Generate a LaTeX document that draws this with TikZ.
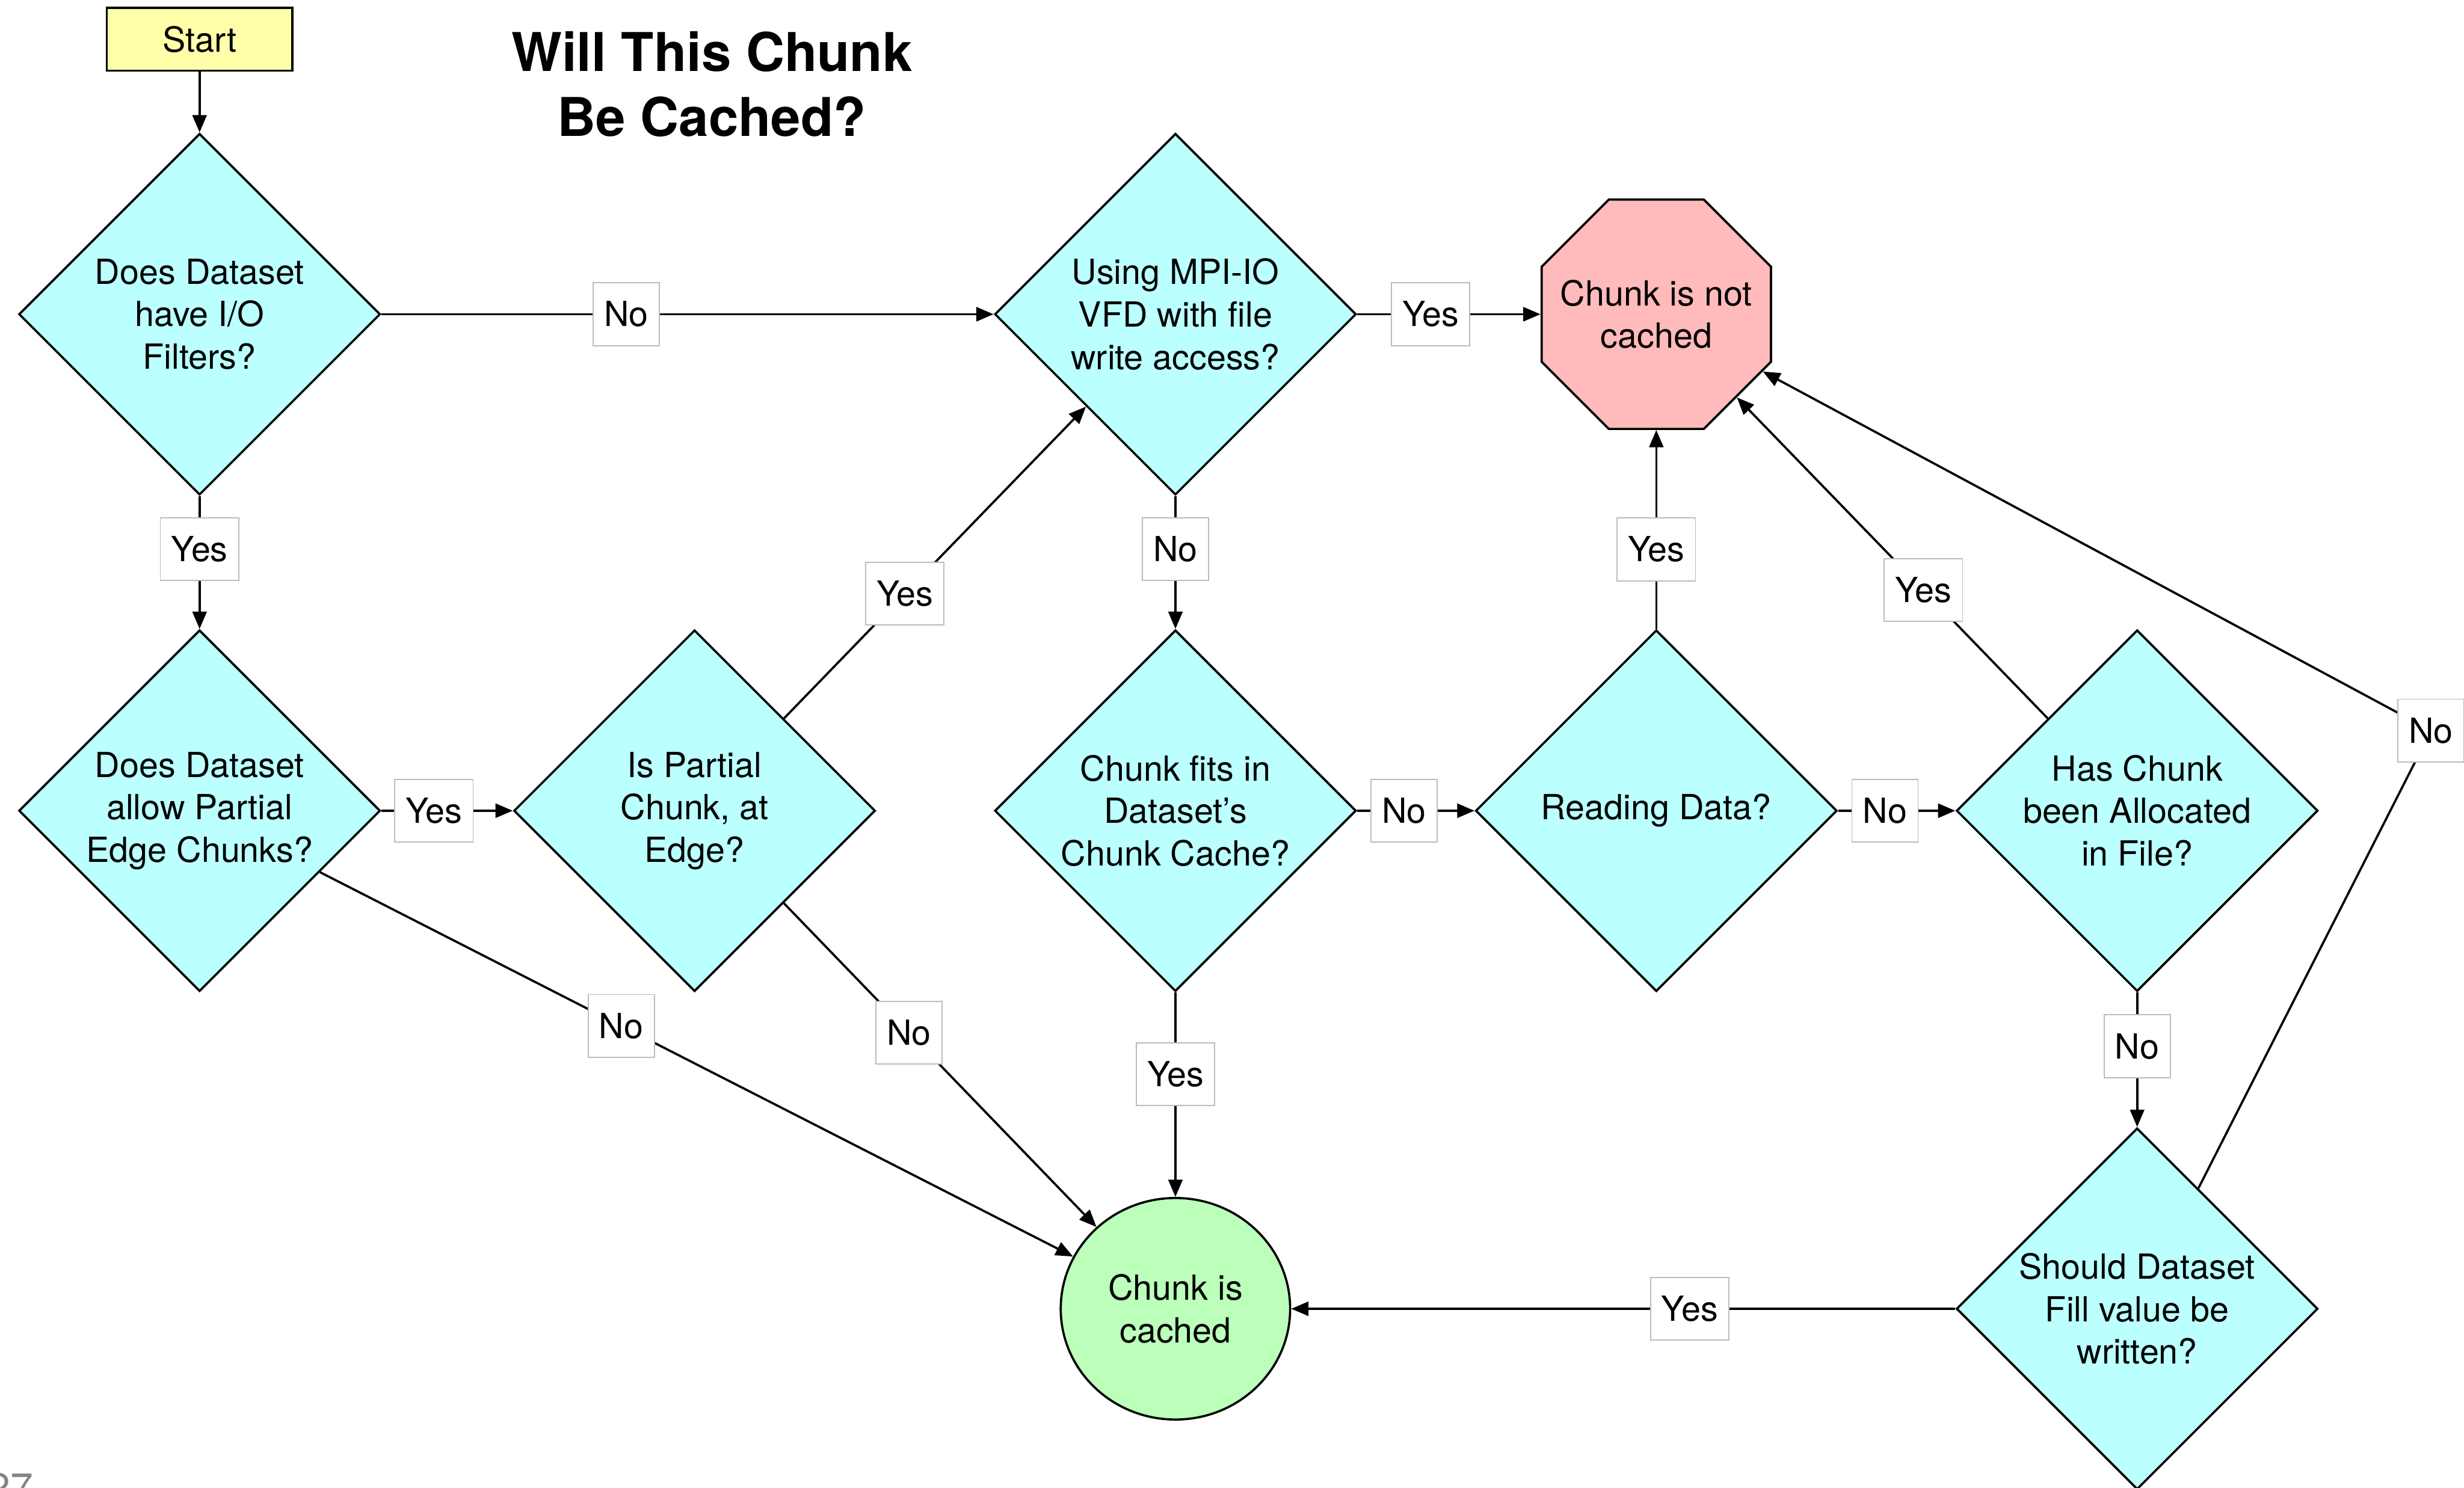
\documentclass[tikz,border=0pt]{standalone}
\usepackage{fontspec}
\setmainfont{TeX Gyre Heros}
\usetikzlibrary{shapes.geometric,arrows.meta}
\definecolor{qfill}{HTML}{BBFFFF}
\definecolor{stopfill}{HTML}{FFBBBB}
\definecolor{okfill}{HTML}{BBFFBB}
\definecolor{startfill}{HTML}{FFFFAA}
\definecolor{lblline}{HTML}{BBBBBB}
\definecolor{pagegray}{HTML}{858585}
\begin{document}
\begin{tikzpicture}[x=1pt,y=-1pt,
  every node/.style={font=\fontsize{22}{27}\selectfont},
  startbox/.style={rectangle, draw, line width=1.3pt, fill=startfill,
    minimum width=118pt, minimum height=40pt, inner sep=0pt},
  heading/.style={font=\fontsize{34}{41}\selectfont\bfseries, align=center,
    inner sep=0pt, anchor=north},
  question/.style={diamond, aspect=1, draw, line width=1.4pt, fill=qfill,
    minimum width=230pt, minimum height=230pt, inner sep=0pt, align=center},
  notcached/.style={regular polygon, regular polygon sides=8, draw,
    line width=1.4pt, fill=stopfill, minimum size=158pt, inner sep=0pt},
  plaintext/.style={inner sep=0pt, align=center},
  cached/.style={ellipse, draw, line width=1.4pt, fill=okfill,
    minimum width=146pt, minimum height=141pt, inner sep=0pt, align=center},
  lbl/.style={rectangle, draw=lblline, line width=0.7pt, fill=white,
    inner xsep=7pt, inner ysep=0pt, minimum height=40pt, pos=0.4},
  arr/.style={line width=1.4pt, -{Triangle[length=11pt,width=9pt]}},
  pagenum/.style={font=\fontsize{26}{30}\selectfont, text=pagegray,
    inner sep=0pt, anchor=base west}
]
\useasboundingbox (0,0) rectangle (1568,947);

% title and entry point
\node[heading] (title) at (453,20) {Will This Chunk\\Be Cached?};
\node[startbox] (start) at (127,25) {Start};

% decisions
\node[question] (q1) at (127,200) {Does Dataset\\have I/O\\Filters?};
\node[question] (q2) at (127,516) {Does Dataset\\allow Partial\\Edge Chunks?};
\node[question] (q3) at (442,516) {Is Partial\\Chunk, at\\Edge?};
\node[question] (q4) at (748,200) {Using MPI-IO\\VFD with file\\write access?};
\node[question] (q5) at (748,516) {Chunk fits in\\Dataset’s\\Chunk Cache?};
\node[question] (q6) at (1054,516) {Reading Data?};
\node[question] (q7) at (1360,516) {Has Chunk\\been Allocated\\in File?};
\node[question] (q8) at (1360,833) {Should Dataset\\Fill value be\\written?};

% outcomes
\node[notcached] (nc) at (1054,200) {};
\node[plaintext] (nctext) at (nc.center) {Chunk is not\\cached};
\node[cached] (ca) at (748,833) {Chunk is\\cached};

\coordinate (nobend) at (1547,465);

% connectors
\draw[arr] (start) -- (q1);
\draw[arr] (q1) -- node[lbl]{No} (q4);
\draw[arr] (q1) -- node[lbl]{Yes} (q2);
\draw[arr] (q2) -- node[lbl]{Yes} (q3);
\draw[arr] (q2) -- node[lbl]{No} (ca);
\draw[arr] (q3) -- node[lbl]{Yes} (q4);
\draw[arr] (q3) -- node[lbl]{No} (ca);
\draw[arr] (q4) -- node[lbl]{Yes} (nc);
\draw[arr] (q4) -- node[lbl]{No} (q5);
\draw[arr] (q5) -- node[lbl]{Yes} (ca);
\draw[arr] (q5) -- node[lbl]{No} (q6);
\draw[arr] (q6) -- node[lbl]{Yes} (nc);
\draw[arr] (q6) -- node[lbl]{No} (q7);
\draw[arr] (q7) -- node[lbl]{Yes} (nc);
\draw[arr] (q7) -- node[lbl]{No} (q8);
\draw[arr] (q8) -- node[lbl]{Yes} (ca);
\draw[arr] (q8) -- (nobend) node[lbl,pos=1]{No} -- (nc);

% page number
\node[pagenum] (page) at (-8,956) {27};
\end{tikzpicture}
\end{document}
